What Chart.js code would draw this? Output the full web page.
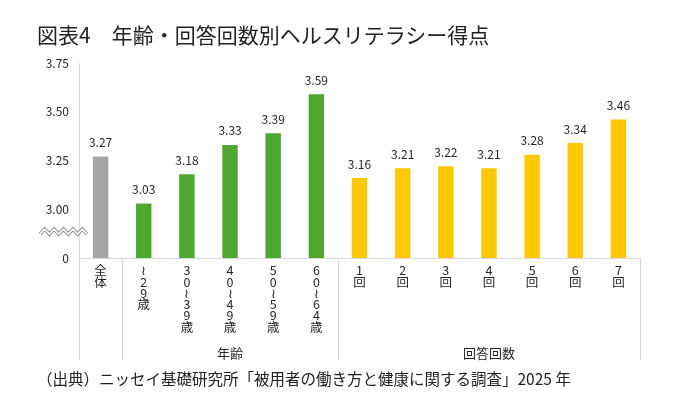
<!DOCTYPE html>
<html><head><meta charset="utf-8">
<script src="https://cdn.jsdelivr.net/npm/chart.js@4.4.1/dist/chart.umd.min.js"></script>
<style>
html,body{margin:0;padding:0;background:#fff;}
#wrap{position:relative;width:680px;height:419px;overflow:hidden;font-family:"Noto Sans CJK JP","Noto Sans",sans-serif;color:#222;}
#title{position:absolute;left:37px;top:20px;font-size:21px;line-height:28px;white-space:nowrap;}
#source{position:absolute;left:37px;top:368px;font-size:15.5px;line-height:20px;white-space:nowrap;color:#222;}
canvas{position:absolute;left:0;top:0;}
</style></head><body>
<div id="wrap">
<canvas id="c" width="680" height="419"></canvas>
<div id="title">図表4　年齢・回答回数別ヘルスリテラシー得点</div>
<div id="source">（出典）ニッセイ基礎研究所「被用者の働き方と健康に関する調査」2025 年</div>
</div>
<script>
// ---- data ----
const categories = ['全体','～29歳','30～39歳','40～49歳','50～59歳','60～64歳','1回','2回','3回','4回','5回','6回','7回'];
const scores = [3.27,3.03,3.18,3.33,3.39,3.59,3.16,3.21,3.22,3.21,3.28,3.34,3.46];
const groups = ['全体','年齢','年齢','年齢','年齢','年齢','回答回数','回答回数','回答回数','回答回数','回答回数','回答回数','回答回数'];
const groupTitles = ['年齢','回答回数'];
const yTickValues = [2.75,3.00,3.25,3.50,3.75];
const yTickLabels = ['0','3.00','3.25','3.50','3.75'];

// ---- styles ----
const groupColours = {'全体':'#a6a6a6','年齢':'#4ea72e','回答回数':'#ffc800'};
const FONT = '"Noto Sans CJK JP","Noto Sans",sans-serif';
const TEXT = '#262626';
const LINE = '#d9d9d9';

const decor = {
  id:'decor',
  afterDatasetsDraw(chart){
    const {ctx} = chart;
    const meta = chart.getDatasetMeta(0);
    ctx.save();
    ctx.font = '12px ' + FONT;
    ctx.fillStyle = TEXT;
    ctx.textAlign = 'center';
    ctx.textBaseline = 'middle';
    meta.data.forEach((bar,i)=>{
      ctx.fillText(scores[i].toFixed(2), bar.x, bar.y - 14);
    });
    ctx.restore();
  },
  afterDraw(chart){
    const {ctx, chartArea:ca, scales:{x,y}} = chart;
    ctx.save();
    // group separators
    const bounds = [ca.left];
    for(let i=1;i<groups.length;i++){
      if(groups[i]!==groups[i-1]) bounds.push((x.getPixelForValue(i-1)+x.getPixelForValue(i))/2);
    }
    bounds.push(ca.right);
    ctx.strokeStyle = LINE; ctx.lineWidth = 1;
    bounds.forEach(bx=>{
      const px = Math.round(bx)+0.5;
      ctx.beginPath(); ctx.moveTo(px, ca.bottom); ctx.lineTo(px, ca.bottom+102); ctx.stroke();
    });
    // group titles
    ctx.font = '13px ' + FONT; ctx.fillStyle = TEXT; ctx.textAlign='center'; ctx.textBaseline='middle';
    groupTitles.forEach(g=>{
      const idx = groups.map((v,i)=>v===g?i:-1).filter(i=>i>=0);
      const l = (x.getPixelForValue(idx[0]-1)+x.getPixelForValue(idx[0]))/2;
      const r = idx[idx.length-1]===groups.length-1 ? ca.right : (x.getPixelForValue(idx[idx.length-1])+x.getPixelForValue(idx[idx.length-1]+1))/2;
      ctx.fillText(g, (l+r)/2, ca.bottom + 95);
    });
    // axis break zigzag
    const yb = (y.getPixelForValue(yTickValues[0]) + y.getPixelForValue(yTickValues[1]))/2 - 2;
    const drawZig = ()=>{
      ctx.beginPath();
      const x0 = ca.left - 39, x1 = ca.left + 8, n = 10;
      for(let k=0;k<=n;k++){
        const px = x0 + (x1-x0)*k/n;
        const py = yb + (k%2===0 ? 2.5 : -2.5);
        if(k===0) ctx.moveTo(px,py); else ctx.lineTo(px,py);
      }
      ctx.stroke();
    };
    ctx.lineJoin='miter';
    ctx.strokeStyle = '#8c8c8c'; ctx.lineWidth = 3.5; drawZig();
    ctx.strokeStyle = '#ffffff'; ctx.lineWidth = 1.6; drawZig();
    ctx.restore();
  }
};

new Chart(document.getElementById('c'), {
  type:'bar',
  data:{
    labels: categories,
    datasets:[{
      data: scores,
      backgroundColor: groups.map(g=>groupColours[g]),
      barPercentage: 0.357,
      categoryPercentage: 1
    }]
  },
  options:{
    responsive:false,
    animation:false,
    devicePixelRatio: 1,
    layout:{padding:{left:0,right:40,top:63,bottom:0}},
    plugins:{legend:{display:false},tooltip:{enabled:false}},
    scales:{
      x:{
        grid:{display:false, drawTicks:false},
        border:{display:true, color:LINE},
        ticks:{
          autoSkip:false, maxRotation:0, minRotation:0, padding:7,
          color:TEXT,
          font:{family:FONT, size:12.5, lineHeight:0.9},
          callback:(v,i)=>Array.from(categories[i]).map(c=>c==='～'?'≀':c)
        },
        afterFit(s){ s.height = 161; }
      },
      y:{
        min: yTickValues[0], max: yTickValues[yTickValues.length-1],
        afterBuildTicks(s){ s.ticks = yTickValues.map(v=>({value:v})); },
        grid:{display:false, drawTicks:false},
        border:{display:true, color:LINE},
        ticks:{
          padding:10, color:TEXT,
          font:{family:FONT, size:12},
          callback:(v,i)=>yTickLabels[i]
        },
        afterFit(s){ s.width = 79; }
      }
    }
  },
  plugins:[decor]
});
</script>
</body></html>
